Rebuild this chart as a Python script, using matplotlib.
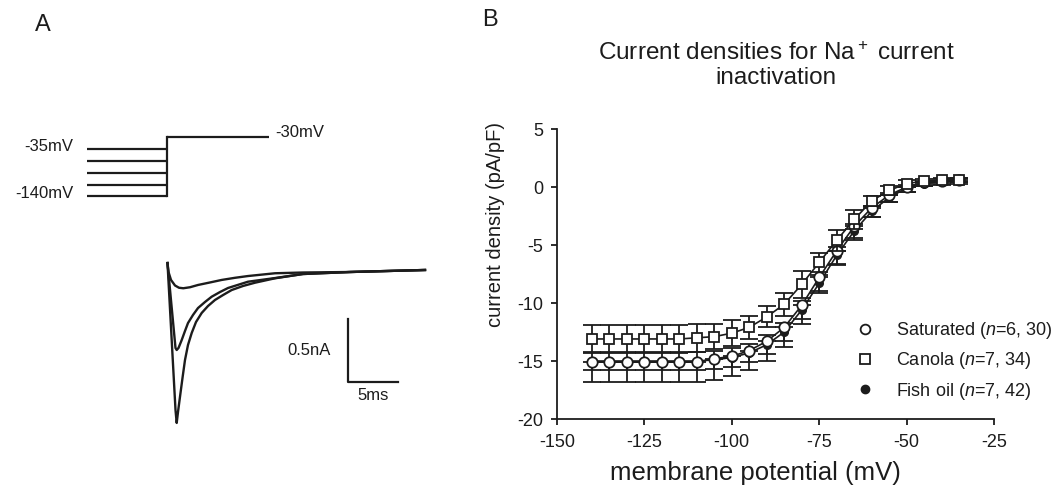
import numpy as np
import matplotlib.pyplot as plt
from matplotlib.lines import Line2D

plt.rcParams['font.family'] = ['Liberation Sans', 'DejaVu Sans']
plt.rcParams['mathtext.fontset'] = 'custom'
plt.rcParams['mathtext.rm'] = 'Liberation Sans'
plt.rcParams['mathtext.it'] = 'Liberation Sans:italic'
plt.rcParams['axes.unicode_minus'] = False

# ---- panel B: inactivation current densities (pA/pF) ----
potential = [-140, -135, -130, -125, -120, -115, -110, -105, -100, -95, -90,
             -85, -80, -75, -70, -65, -60, -55, -50, -45, -40, -35]
saturated = [-15.1, -15.1, -15.1, -15.1, -15.1, -15.1, -15.1, -14.8, -14.6, -14.1, -13.3,
             -12.1, -10.2, -7.8, -5.5, -3.4, -1.8, -0.7, 0.0, 0.4, 0.5, 0.6]
saturated_err = [1.7, 1.7, 1.7, 1.7, 1.7, 1.7, 1.7, 1.8, 1.7, 1.7, 1.7,
                 1.7, 1.6, 1.3, 1.2, 1.2, 0.8, 0.6, 0.4, 0.3, 0.3, 0.3]
canola = [-13.1, -13.1, -13.1, -13.1, -13.1, -13.1, -13.0, -12.9, -12.6, -12.1, -11.2,
          -10.1, -8.4, -6.5, -4.6, -2.8, -1.2, -0.3, 0.3, 0.5, 0.6, 0.6]
canola_err = [1.2, 1.2, 1.2, 1.2, 1.2, 1.2, 1.2, 1.1, 1.1, 1.0, 0.9,
              1.0, 1.2, 0.8, 0.9, 0.8, 0.4, 0.4, 0.3, 0.2, 0.2, 0.2]
fish_oil = [-15.0, -15.0, -15.0, -15.0, -15.0, -15.0, -15.0, -14.9, -14.7, -14.3, -13.6,
            -12.5, -10.6, -8.3, -5.9, -3.8, -2.1, -0.9, -0.1, 0.3, 0.5, 0.6]
fish_oil_err = [0.8, 0.8, 0.8, 0.8, 0.8, 0.8, 0.8, 0.8, 0.8, 0.8, 0.8,
                0.8, 0.8, 0.7, 0.7, 0.6, 0.5, 0.4, 0.3, 0.2, 0.2, 0.2]
legend_labels = [r'Saturated ($\mathit{n}$=6, 30)',
                 r'Canola ($\mathit{n}$=7, 34)',
                 r'Fish oil ($\mathit{n}$=7, 42)']

# ---- panel A: voltage protocol and example Na+ currents ----
prepulse_labels = ['-35mV', '', '', '', '-140mV']   # five holding steps
test_label = '-30mV'
prepulse_ms = 8.0
test_ms = 10.2

# traces: time (ms) after the step, current (nA)
trace1_t = [0.05, 0.15, 0.4, 0.8, 1.2, 1.63, 2.3, 3.1, 4.3, 5.47, 6.8, 8.1, 10.8, 13.6, 18.3, 25.8]
trace1_i = [0.071, 0.0, -0.063, -0.107, -0.125, -0.129, -0.121, -0.103, -0.083, -0.063,
            -0.046, -0.032, -0.010, -0.004, 0.0, 0.016]
trace2_t = [0.05, 0.85, 0.97, 1.15, 1.47, 1.8, 2.1, 2.6, 3.1, 3.8, 4.47, 5.3, 6.1, 8.1,
            10.8, 13.6, 18.3, 25.8]
trace2_i = [0.071, -0.603, -0.619, -0.603, -0.54, -0.468, -0.405, -0.341, -0.286, -0.238,
            -0.196, -0.159, -0.127, -0.077, -0.048, -0.016, 0.0, 0.016]
trace3_t = [0.05, 0.85, 0.97, 1.1, 1.3, 1.55, 1.8, 2.1, 2.47, 2.9, 3.47, 4.1, 4.8, 5.6,
            6.47, 7.6, 8.8, 10.8, 13.6, 18.3, 25.8]
trace3_i = [0.071, -1.095, -1.198, -1.111, -0.99, -0.841, -0.698, -0.579, -0.484, -0.397,
            -0.325, -0.27, -0.222, -0.183, -0.143, -0.111, -0.085, -0.05, -0.016, 0.0, 0.016]
scale_ms = 5
scale_na = 0.5

W, H = 1058, 493
fig = plt.figure(figsize=(W / 100, H / 100), dpi=100)

# panel A axes: x in ms (t=0 at px 167, 10 px/ms), y in nA (0 at px 272, 126 px/nA)
ax_a = fig.add_axes([0, 0, 440 / W, 1])
ax_a.set_xlim(-167 / 10, (440 - 167) / 10)
ax_a.set_ylim((272 - H) / 126, 272 / 126)
ax_a.axis('off')

# protocol drawn schematically: one row per step, test step one row above
ax_p = fig.add_axes([0, 0, 440 / W, 1])
ax_p.set_xlim(ax_a.get_xlim())
ax_p.set_ylim((H - 137.5) / 11.8, -137.5 / 11.8)
ax_p.axis('off')

ink = '#1c1c1c'
n_steps = len(prepulse_labels)
for k, lab in enumerate(prepulse_labels, start=1):
    ax_p.plot([-prepulse_ms, 0], [k, k], color=ink, lw=1.6, solid_capstyle='butt')
    if lab:
        ax_p.text(-9.4, k - 0.25, lab, ha='right', va='center', fontsize=12, color=ink)
ax_p.plot([0, 0], [n_steps, 0], color=ink, lw=1.6)
ax_p.plot([0, test_ms], [0, 0], color=ink, lw=1.6, solid_capstyle='butt')
ax_p.text(test_ms + 0.6, -0.45, test_label, ha='left', va='center', fontsize=12, color=ink)

for tt, ii in [(trace1_t, trace1_i), (trace2_t, trace2_i), (trace3_t, trace3_i)]:
    ax_a.plot(tt, ii, color=ink, lw=1.7, solid_joinstyle='round')

sb_t, sb_i = 18.1, -0.373
ax_a.plot([sb_t, sb_t, sb_t + scale_ms], [sb_i, sb_i - scale_na, sb_i - scale_na],
          color=ink, lw=1.6)
ax_a.text(sb_t - 1.7, sb_i - scale_na / 2, '0.5nA', ha='right', va='center', fontsize=12, color=ink)
ax_a.text(sb_t + scale_ms / 2, sb_i - scale_na - 0.05, '5ms', ha='center', va='top', fontsize=12, color=ink)

fig.text(43 / W, 1 - 25 / H, 'A', ha='center', va='center', fontsize=17, color=ink)
fig.text(490 / W, 1 - 20 / H, 'B', ha='center', va='center', fontsize=17, color=ink)

# panel B
ax = fig.add_axes([557 / W, 1 - 419 / H, (994 - 557) / W, (419 - 129) / H])
zeros = [0] * len(potential)
ax.errorbar(potential, fish_oil, yerr=fish_oil_err, fmt='-o', color=ink, mfc=ink,
            ms=5.5, lw=1.2, elinewidth=1.3, capsize=6.5, capthick=1.3, zorder=2)
ax.errorbar(potential, saturated, yerr=[saturated_err, zeros], fmt='-o', color=ink, mfc='white',
            mew=1.3, ms=7.5, lw=1.2, elinewidth=1.3, capsize=6.5, capthick=1.3, zorder=3)
ax.errorbar(potential, canola, yerr=canola_err, fmt='-s', color=ink, mfc='white',
            mew=1.3, ms=7, lw=1.2, elinewidth=1.3, capsize=6.5, capthick=1.3, zorder=4)

ax.set_xlim(-150, -25)
ax.set_ylim(-20, 5)
ax.set_xticks([-150, -125, -100, -75, -50, -25])
ax.set_yticks([-20, -15, -10, -5, 0, 5])
for s in ['top', 'right']:
    ax.spines[s].set_visible(False)
for s in ['left', 'bottom']:
    ax.spines[s].set_linewidth(1.3)
    ax.spines[s].set_color(ink)
ax.tick_params(axis='both', direction='out', length=4, width=1.3, labelsize=13, colors=ink)
ax.tick_params(axis='y', pad=6)
ax.tick_params(axis='x', pad=7)

ax.set_xlabel('membrane potential (mV)', fontsize=18.5, color=ink)
ax.xaxis.set_label_coords(0.455, -0.145)
ax.xaxis.label.set_va('top')
ax.set_ylabel('current density (pA/pF)', fontsize=14.5, color=ink)
ax.yaxis.set_label_coords(-0.118, 0.669)

fig.text(776 / W, 1 - 42 / H, 'Current densities for Na$^+$ current\ninactivation',
         ha='center', va='top', fontsize=17.5, linespacing=1.12, color=ink)

handles = [Line2D([], [], ls='none', marker='o', mfc='white', mec=ink, mew=1.3, ms=7),
           Line2D([], [], ls='none', marker='s', mfc='white', mec=ink, mew=1.3, ms=7),
           Line2D([], [], ls='none', marker='o', mfc=ink, mec=ink, ms=6)]
fig.legend(handles, legend_labels, loc='center left', bbox_to_anchor=(856 / W, 1 - 361 / H),
           bbox_transform=fig.transFigure, frameon=False, fontsize=13, handlelength=1,
           handletextpad=1.2, labelspacing=0.5, borderpad=0, borderaxespad=0,
           labelcolor=ink)

fig.savefig('out.png', dpi=100)
